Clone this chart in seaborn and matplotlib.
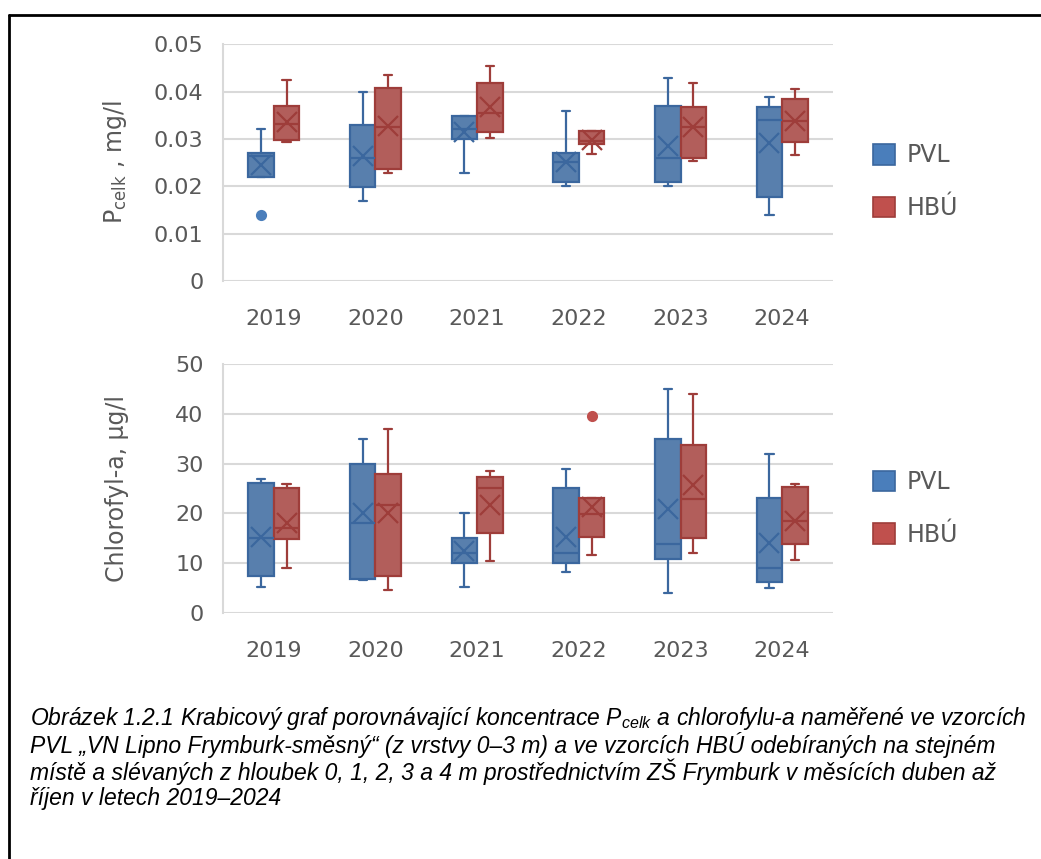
import matplotlib
matplotlib.use("Agg")
import matplotlib.pyplot as plt
from matplotlib.lines import Line2D
from matplotlib.patches import Patch
import pandas as pd
import seaborn as sns

# categories
years = ["2019", "2020", "2021", "2022", "2023", "2024"]
sites = ["PVL", "HBÚ"]

# P celk (mg/l) - five number summaries
pvl_p_min = [0.0219, 0.0170, 0.0229, 0.0200, 0.0200, 0.0139]
pvl_p_q1 = [0.0219, 0.0199, 0.0300, 0.0209, 0.0209, 0.0177]
pvl_p_med = [0.0264, 0.0261, 0.0321, 0.0251, 0.0261, 0.0340]
pvl_p_q3 = [0.0270, 0.0330, 0.0349, 0.0270, 0.0370, 0.0367]
pvl_p_max = [0.0321, 0.0400, 0.0349, 0.0359, 0.0430, 0.0390]
pvl_p_mean = [0.0245, 0.0264, 0.0314, 0.0252, 0.0285, 0.0292]

hbu_p_min = [0.0294, 0.0228, 0.0302, 0.0268, 0.0254, 0.0267]
hbu_p_q1 = [0.0298, 0.0236, 0.0314, 0.0290, 0.0261, 0.0293]
hbu_p_med = [0.0332, 0.0325, 0.0355, 0.0295, 0.0325, 0.0338]
hbu_p_q3 = [0.0369, 0.0409, 0.0419, 0.0318, 0.0367, 0.0385]
hbu_p_max = [0.0424, 0.0435, 0.0455, 0.0318, 0.0418, 0.0406]
hbu_p_mean = [0.0337, 0.0328, 0.0367, 0.0298, 0.0325, 0.0339]

# chlorofyl-a (ug/l)
pvl_c_min = [5.3, 6.7, 5.3, 8.3, 4.1, 5.1]
pvl_c_q1 = [7.5, 6.9, 10.0, 10.0, 10.9, 6.2]
pvl_c_med = [15.0, 18.0, 12.0, 12.0, 13.9, 9.0]
pvl_c_q3 = [26.0, 30.0, 15.0, 25.1, 34.9, 23.0]
pvl_c_max = [27.0, 34.9, 20.0, 28.9, 44.9, 31.9]
pvl_c_mean = [15.3, 20.0, 12.5, 15.3, 20.8, 14.0]

hbu_c_min = [9.1, 4.7, 10.4, 11.6, 12.0, 10.7]
hbu_c_q1 = [14.9, 7.5, 16.0, 15.2, 15.0, 13.8]
hbu_c_med = [17.0, 21.6, 25.1, 19.8, 22.8, 18.5]
hbu_c_q3 = [25.0, 28.0, 27.4, 23.0, 33.7, 25.3]
hbu_c_max = [25.8, 36.9, 28.5, 23.0, 44.0, 25.8]
hbu_c_mean = [18.0, 20.0, 21.7, 21.3, 25.7, 18.5]

# outliers
p_out_year = ["2019"]
p_out_site = ["PVL"]
p_out_value = [0.0140]
c_out_year = ["2022"]
c_out_site = ["HBÚ"]
c_out_value = [39.6]

p_ticks = [0, 0.01, 0.02, 0.03, 0.04, 0.05]
p_ticklabels = ["0", "0.01", "0.02", "0.03", "0.04", "0.05"]
c_ticks = [0, 10, 20, 30, 40, 50]
c_ticklabels = ["0", "10", "20", "30", "40", "50"]

caption = [
    r"Obrázek 1.2.1 Krabicový graf porovnávající koncentrace P$_{\mathregular{celk}}$ a chlorofylu-a naměřené ve vzorcích",
    "PVL „VN Lipno Frymburk-směsný“ (z vrstvy 0–3 m) a ve vzorcích HBÚ odebíraných na stejném",
    "místě a slévaných z hloubek 0, 1, 2, 3 a 4 m prostřednictvím ZŠ Frymburk v měsících duben až",
    "říjen v letech 2019–2024",
]

fill_colors = {"PVL": "#4A7EBB", "HBÚ": "#C0504D"}
edge_colors = {"PVL": "#3B679E", "HBÚ": "#9E3D3A"}
text_gray = "#595959"
grid_gray = "#D9D9D9"


def long_table(pvl_stats, hbu_stats):
    rows = []
    for site, stats in zip(sites, [pvl_stats, hbu_stats]):
        for col in stats:
            for yr, v in zip(years, col):
                rows.append({"year": yr, "site": site, "value": v})
    return pd.DataFrame(rows)


def mean_table(pvl_mean, hbu_mean):
    return pd.DataFrame({
        "year": years + years,
        "site": ["PVL"] * len(years) + ["HBÚ"] * len(years),
        "value": pvl_mean + hbu_mean,
    })


sns.set_theme(style="white")
plt.rcParams["font.family"] = ["DejaVu Sans"]

fig = plt.figure(figsize=(10.41, 8.59), dpi=100)
ax_p = fig.add_axes([0.2142, 0.6729, 0.586, 0.2753])
ax_c = fig.add_axes([0.2142, 0.2864, 0.586, 0.2899])

panels = [
    (ax_p,
     long_table([pvl_p_min, pvl_p_q1, pvl_p_med, pvl_p_q3, pvl_p_max],
                [hbu_p_min, hbu_p_q1, hbu_p_med, hbu_p_q3, hbu_p_max]),
     mean_table(pvl_p_mean, hbu_p_mean),
     pd.DataFrame({"year": p_out_year, "site": p_out_site, "value": p_out_value}),
     p_ticks, p_ticklabels, r"P$_{\mathregular{celk}}$ , mg/l"),
    (ax_c,
     long_table([pvl_c_min, pvl_c_q1, pvl_c_med, pvl_c_q3, pvl_c_max],
                [hbu_c_min, hbu_c_q1, hbu_c_med, hbu_c_q3, hbu_c_max]),
     mean_table(pvl_c_mean, hbu_c_mean),
     pd.DataFrame({"year": c_out_year, "site": c_out_site, "value": c_out_value}),
     c_ticks, c_ticklabels, "Chlorofyl-a, µg/l"),
]

for ax, box_df, mean_df, out_df, ticks, ticklabels, ylabel in panels:
    for site in sites:
        sns.boxplot(data=box_df[box_df["site"] == site], x="year", y="value",
                    hue="site", hue_order=sites, order=years, dodge=True,
                    palette=fill_colors, linecolor=edge_colors[site],
                    width=0.5, gap=0, whis=(0, 100), linewidth=1.6,
                    capwidths=0.08, legend=False, ax=ax)
        sns.pointplot(data=mean_df[mean_df["site"] == site], x="year", y="value",
                      hue="site", hue_order=sites, order=years,
                      palette=edge_colors, dodge=0.25, linestyle="none",
                      markers="x", markersize=15, markeredgewidth=1.6,
                      errorbar=None, legend=False, ax=ax)
        sub = out_df[out_df["site"] == site]
        if len(sub):
            sns.pointplot(data=sub, x="year", y="value",
                          hue="site", hue_order=sites, order=years,
                          palette=fill_colors, dodge=0.25, linestyle="none",
                          markers="o", markersize=6,
                          errorbar=None, legend=False, ax=ax)

    ax.set_xlim(-0.5, len(years) - 0.5)
    ax.set_ylim(ticks[0], ticks[-1])
    ax.set_yticks(ticks)
    ax.set_yticklabels(ticklabels)
    ax.set_xlabel("")
    ax.set_ylabel(ylabel, fontsize=17, color=text_gray)
    ax.yaxis.set_label_coords(-0.154, 0.5)
    ax.grid(axis="y", color=grid_gray, linewidth=1.5)
    ax.set_axisbelow(True)
    for s in ["top", "right", "bottom"]:
        ax.spines[s].set_visible(False)
    ax.spines["left"].set_color(grid_gray)
    ax.spines["left"].set_linewidth(1.5)
    ax.tick_params(axis="both", length=0, labelsize=16, labelcolor=text_gray)
    ax.tick_params(axis="x", pad=20)
    ax.tick_params(axis="y", pad=14)

    handles = [Patch(facecolor=fill_colors[s], edgecolor=edge_colors[s], linewidth=1.2)
               for s in sites]
    ax.legend(handles, sites, loc="center left", bbox_to_anchor=(1.03, 0.42),
              frameon=False, fontsize=17, labelcolor=text_gray,
              handlelength=0.95, handleheight=0.95, labelspacing=1.2,
              handletextpad=0.5)

# caption
for i, line in enumerate(caption):
    fig.text(0.029, 1 - (718 + 27 * i) / 859, line, fontsize=16.5, style="italic",
             family=["Liberation Sans", "DejaVu Sans"],
             va="center", ha="left", color="#000000")

# outer frame (top and left edges)
fig.add_artist(Line2D([0.0086, 1.0], [0.9831, 0.9831], transform=fig.transFigure,
                      color="black", linewidth=2))
fig.add_artist(Line2D([0.0086, 0.0086], [0.0, 0.9831], transform=fig.transFigure,
                      color="black", linewidth=2))

fig.savefig("out.png", dpi=100)
